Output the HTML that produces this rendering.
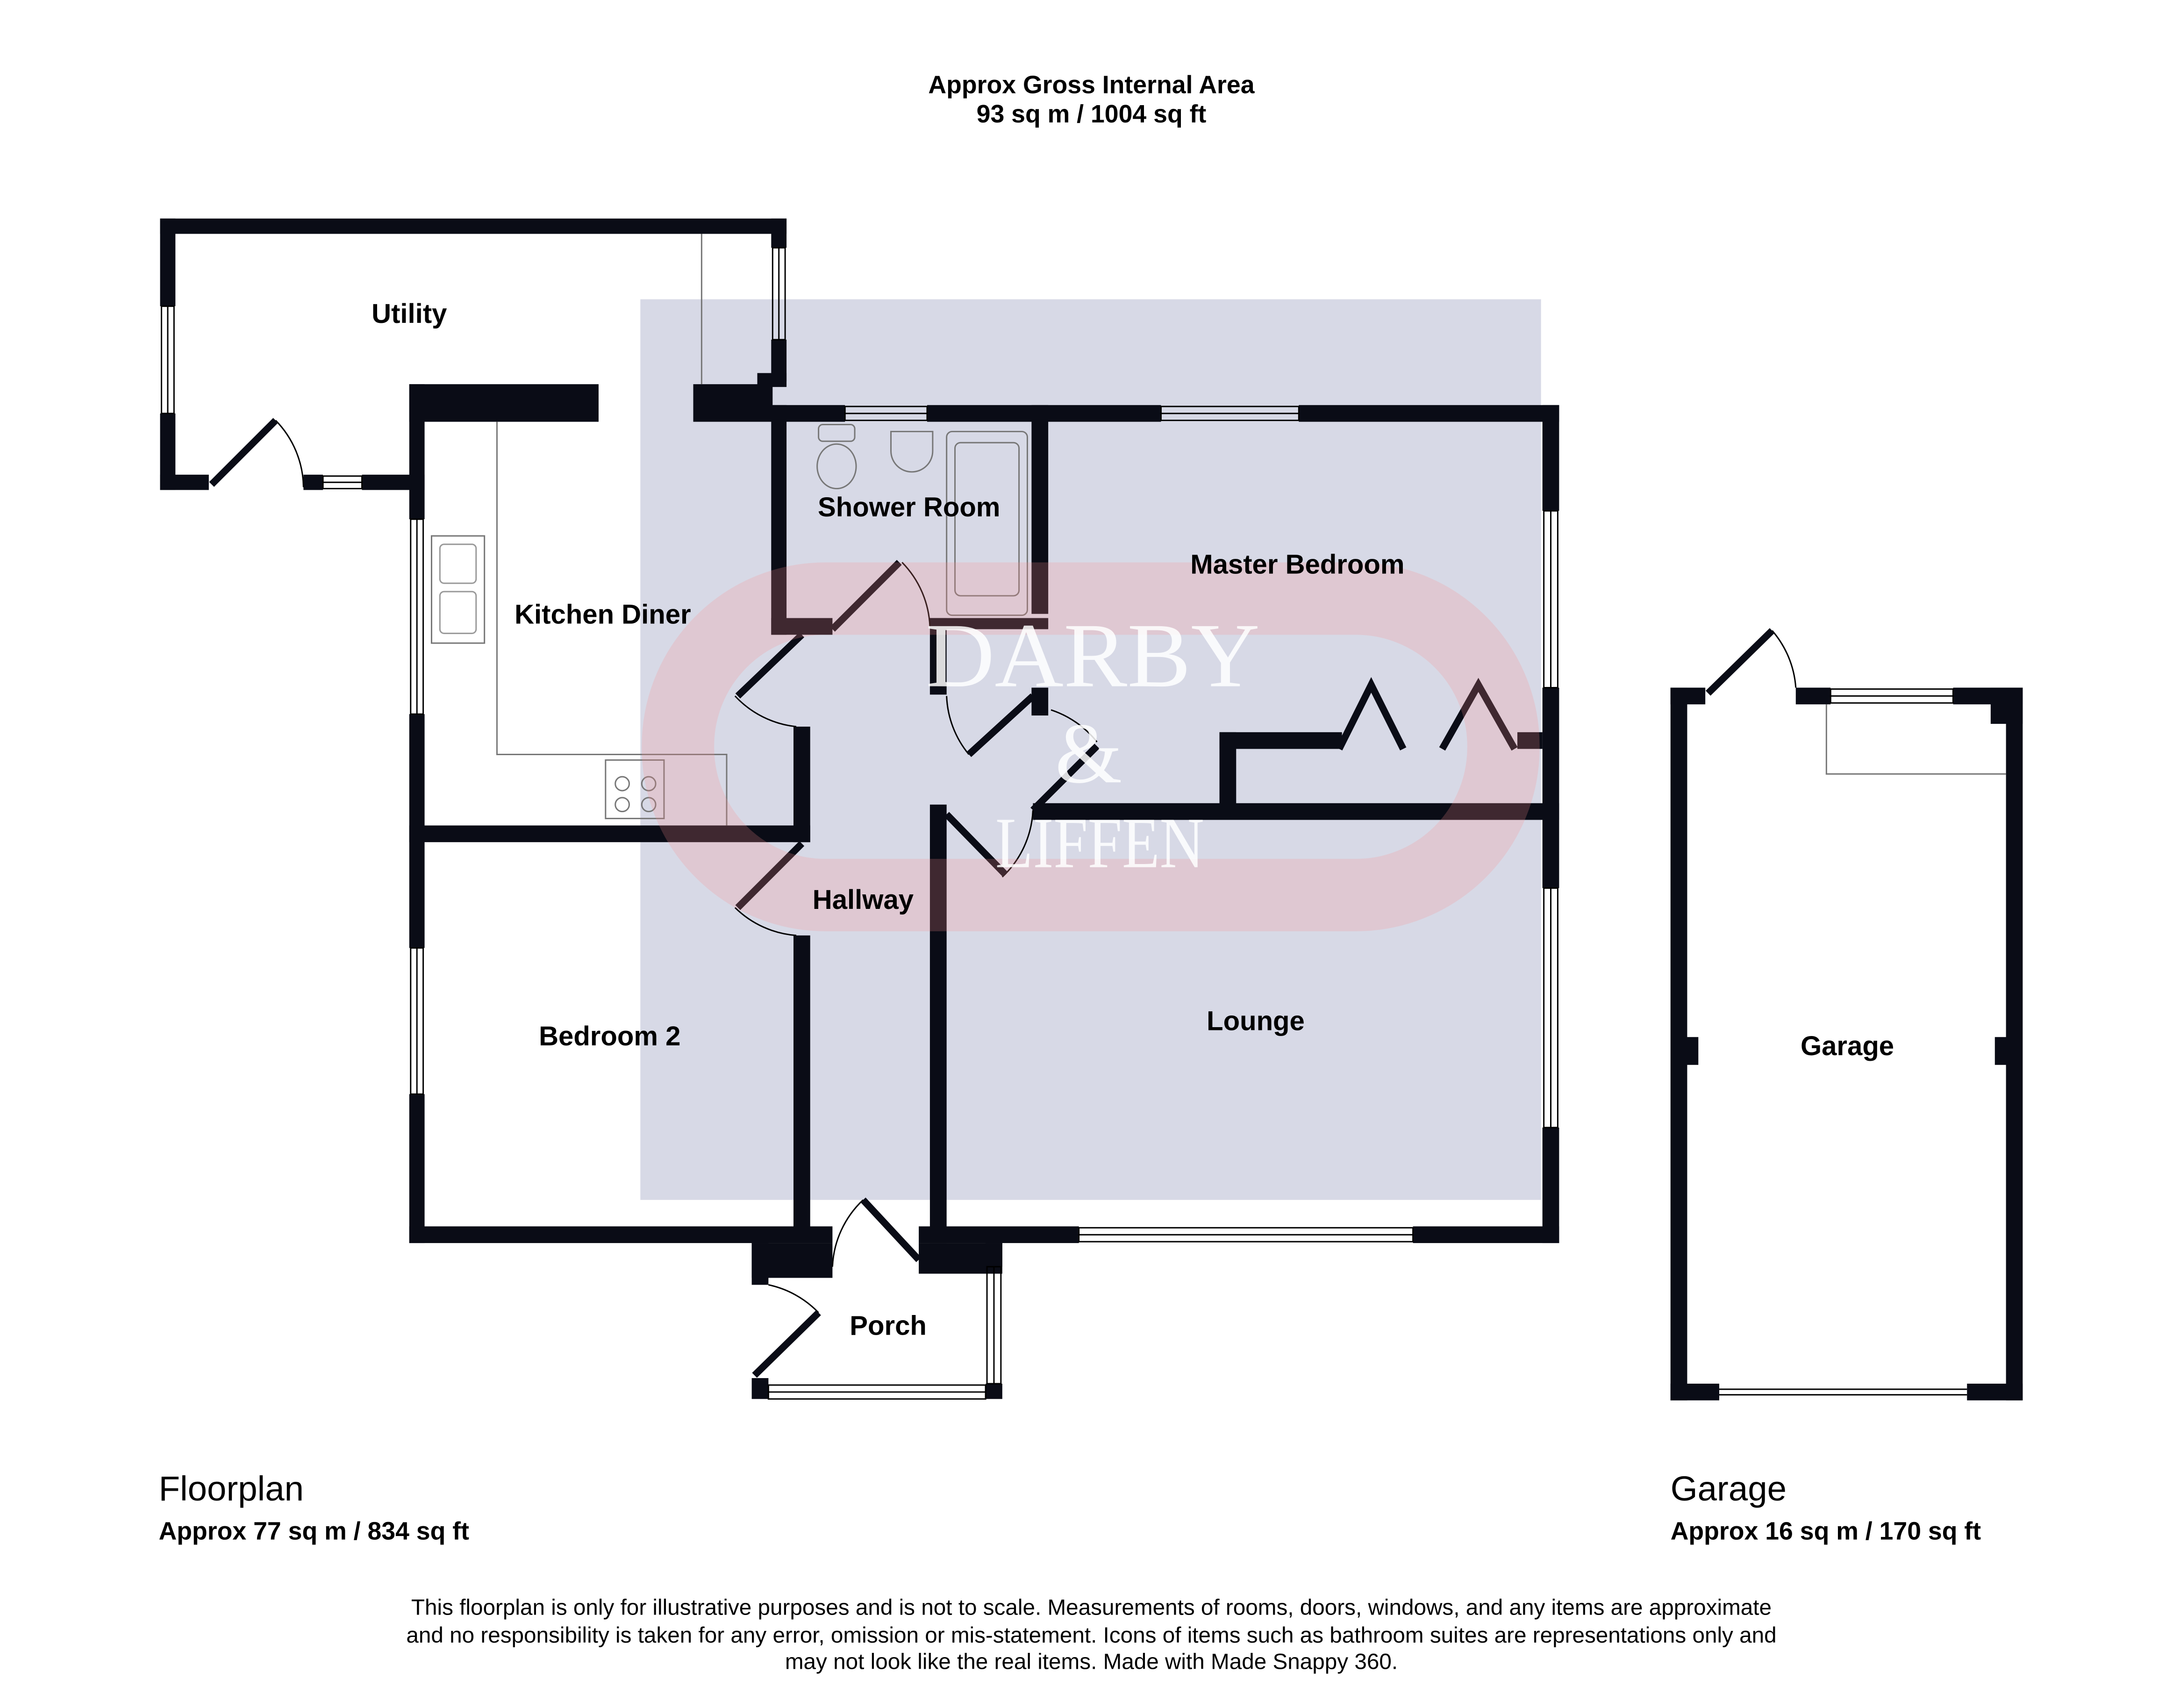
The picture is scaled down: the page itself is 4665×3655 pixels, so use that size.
<!DOCTYPE html>
<html><head><meta charset="utf-8"><style>html,body{margin:0;padding:0;background:#fff}svg{display:block}</style></head><body>
<svg width="4665" height="3655" viewBox="0 0 1566 1227" preserveAspectRatio="none" xmlns="http://www.w3.org/2000/svg" font-family="Liberation Sans, sans-serif">
<rect width="1566" height="1227" fill="#fff"/>
<rect x="460" y="215" width="647" height="647" fill="#d7d9e6"/>
<g font-weight="bold" font-size="18" text-anchor="middle" fill="#000">
<text x="784" y="67">Approx Gross Internal Area</text>
<text x="784" y="88">93 sq m / 1004 sq ft</text>
</g>
<g fill="#0a0c16">
<rect x="115" y="157" width="450" height="11"/>
<rect x="115" y="157" width="11" height="63"/><rect x="115" y="297" width="11" height="55"/>
<rect x="115" y="341" width="35" height="11"/><rect x="218" y="341" width="14" height="11"/><rect x="260" y="341" width="45" height="11"/>
<rect x="554" y="157" width="11" height="21"/><rect x="554" y="244" width="11" height="30"/><rect x="544" y="268" width="21" height="10"/>
<rect x="294" y="276" width="136" height="27"/><rect x="294" y="276" width="11" height="97"/><rect x="294" y="513" width="11" height="168"/><rect x="294" y="786" width="11" height="107"/>
<rect x="498" y="276" width="57" height="27"/>
<rect x="555" y="291" width="52" height="12"/><rect x="666" y="291" width="168" height="12"/><rect x="933" y="291" width="187" height="12"/>
<rect x="1108" y="291" width="12" height="76"/><rect x="1108" y="494" width="12" height="144"/><rect x="1108" y="810" width="12" height="83"/>
<rect x="554" y="291" width="11" height="165"/><rect x="554" y="444" width="44" height="12"/>
<rect x="741" y="291" width="12" height="150"/><rect x="668" y="444" width="12" height="55"/><rect x="668" y="444" width="85" height="8"/>
<rect x="741" y="494" width="12" height="20"/>
<rect x="294" y="593" width="288" height="12"/><rect x="570" y="522" width="12" height="83"/><rect x="570" y="672" width="12" height="210"/>
<rect x="668" y="578" width="12" height="315"/>
<rect x="742" y="577" width="378" height="12"/><rect x="876" y="526" width="12" height="52"/><rect x="876" y="526" width="88" height="12"/><rect x="1090" y="526" width="18" height="12"/>
<rect x="294" y="881" width="304" height="12"/><rect x="660" y="881" width="115" height="12"/><rect x="1015" y="881" width="105" height="12"/>
<rect x="540" y="893" width="58" height="25"/><rect x="540" y="893" width="12" height="30"/><rect x="540" y="990" width="12" height="15"/>
<rect x="660" y="893" width="60" height="22"/><rect x="708" y="893" width="12" height="17"/><rect x="708" y="994" width="12" height="11"/>
<rect x="1200" y="494" width="25" height="12"/><rect x="1290" y="494" width="25" height="12"/><rect x="1403" y="494" width="50" height="12"/>
<rect x="1200" y="494" width="12" height="512"/><rect x="1441" y="494" width="12" height="512"/>
<rect x="1430" y="494" width="23" height="26"/>
<rect x="1200" y="994" width="35" height="12"/><rect x="1413" y="994" width="40" height="12"/>
<rect x="1206" y="745" width="14" height="20"/><rect x="1433" y="745" width="14" height="20"/>
</g>
<g stroke="#000" stroke-width="1" fill="none">
<rect x="116" y="220" width="9" height="77"/><line x1="120.5" y1="220" x2="120.5" y2="297"/>
<rect x="232" y="342" width="28" height="9"/><line x1="232" y1="346.5" x2="260" y2="346.5"/>
<rect x="555" y="178" width="9" height="66"/><line x1="559.5" y1="178" x2="559.5" y2="244"/>
<rect x="295" y="373" width="9" height="140"/><line x1="299.5" y1="373" x2="299.5" y2="513"/>
<rect x="295" y="681" width="9" height="105"/><line x1="299.5" y1="681" x2="299.5" y2="786"/>
<rect x="607" y="292" width="59" height="10"/><line x1="607" y1="297" x2="666" y2="297"/>
<rect x="834" y="292" width="99" height="10"/><line x1="834" y1="297" x2="933" y2="297"/>
<rect x="1109" y="367" width="10" height="127"/><line x1="1114" y1="367" x2="1114" y2="494"/>
<rect x="1109" y="638" width="10" height="172"/><line x1="1114" y1="638" x2="1114" y2="810"/>
<rect x="775" y="882" width="240" height="10"/><line x1="775" y1="887" x2="1015" y2="887"/>
<rect x="709" y="910" width="10" height="84"/><line x1="714" y1="910" x2="714" y2="994"/>
<rect x="552" y="995" width="156" height="10"/><line x1="552" y1="1000" x2="708" y2="1000"/>
<rect x="1315" y="495" width="88" height="10"/><line x1="1315" y1="500" x2="1403" y2="500"/>
<line x1="1235" y1="998" x2="1413" y2="998"/><line x1="1235" y1="1002" x2="1413" y2="1002"/>
<polyline points="504,276 504,168" stroke="#777"/>
<polyline points="357,303 357,542 522,542 522,593" stroke="#777"/>
<rect x="310" y="385" width="38" height="77" stroke="#777"/>
<rect x="316" y="391" width="26" height="28" rx="3" stroke="#999"/><rect x="316" y="425" width="26" height="30" rx="3" stroke="#999"/>
<rect x="435" y="546" width="42" height="42" stroke="#777"/>
<circle cx="447" cy="563" r="5" stroke="#777"/><circle cx="466" cy="563" r="5" stroke="#777"/><circle cx="447" cy="578" r="5" stroke="#777"/><circle cx="466" cy="578" r="5" stroke="#777"/>
<polyline points="1312,506 1312,556 1441,556" stroke="#777"/>
<rect x="680" y="310" width="58" height="132" rx="4" stroke="#777"/><rect x="686" y="318" width="46" height="110" rx="4" stroke="#777"/>
<ellipse cx="601" cy="335" rx="14" ry="16" stroke="#777"/><rect x="588" y="305" width="26" height="12" rx="3" stroke="#777"/>
<path d="M640 310 h30 v14 a15 15 0 0 1 -30 0z" stroke="#777"/>
<path d="M198 302 A70 70 0 0 1 218 350"/><path d="M648 404 A70 70 0 0 1 668 450"/><path d="M528 500 A70 70 0 0 0 572 522"/>
<path d="M680 500 A70 70 0 0 0 696 542"/><path d="M755 510 A70 70 0 0 1 788 533"/><path d="M742 582 A70 70 0 0 1 720 630"/>
<path d="M528 652 A70 70 0 0 0 572 672"/><path d="M620 862 A70 70 0 0 0 598 910"/><path d="M588 943 A70 70 0 0 0 552 923"/>
<path d="M1273 453 A70 70 0 0 1 1290 494"/>
</g>
<g stroke="#0a0c16" stroke-width="5" stroke-linecap="butt">
<line x1="152" y1="348" x2="198" y2="302"/><line x1="598" y1="452" x2="646" y2="404"/><line x1="530" y1="500" x2="576" y2="456"/>
<line x1="696" y1="542" x2="742" y2="500"/><line x1="742" y1="582" x2="788" y2="536"/><line x1="680" y1="585" x2="722" y2="628"/>
<line x1="530" y1="652" x2="576" y2="606"/><line x1="620" y1="862" x2="660" y2="905"/><line x1="542" y1="988" x2="588" y2="943"/>
<line x1="1227" y1="498" x2="1273" y2="453"/>
<polyline points="962,538 985,492 1008,538" fill="none"/><polyline points="1036,538 1062,492 1088,538" fill="none"/>
</g>
<rect x="487" y="430" width="593" height="213" rx="106" fill="none" stroke="#ff8c8c" stroke-opacity="0.22" stroke-width="52"/>
<g font-family="Liberation Serif, serif" fill="#fff" fill-opacity="0.85" text-anchor="middle">
<text x="785" y="493" font-size="66" textLength="240" lengthAdjust="spacingAndGlyphs">DARBY</text>
<text x="782" y="562" font-size="62">&amp;</text>
<text x="790" y="623" font-size="52" textLength="150" lengthAdjust="spacingAndGlyphs">LIFFEN</text>
</g>
<g font-weight="bold" font-size="19.5" text-anchor="middle" fill="#000">
<text x="294" y="232">Utility</text>
<text x="653" y="371">Shower Room</text>
<text x="932" y="412">Master Bedroom</text>
<text x="433" y="448">Kitchen Diner</text>
<text x="620" y="653">Hallway</text>
<text x="438" y="751">Bedroom 2</text>
<text x="902" y="740">Lounge</text>
<text x="1327" y="758">Garage</text>
<text x="638" y="959">Porch</text>
</g>
<g fill="#000">
<text x="114" y="1078" font-size="25">Floorplan</text>
<text x="114" y="1106" font-size="18" font-weight="bold">Approx 77 sq m / 834 sq ft</text>
<text x="1200" y="1078" font-size="25">Garage</text>
<text x="1200" y="1106" font-size="18" font-weight="bold">Approx 16 sq m / 170 sq ft</text>
</g>
<g font-size="16" text-anchor="middle" fill="#000">
<text x="784" y="1160">This floorplan is only for illustrative purposes and is not to scale. Measurements of rooms, doors, windows, and any items are approximate</text>
<text x="784" y="1180">and no responsibility is taken for any error, omission or mis-statement. Icons of items such as bathroom suites are representations only and</text>
<text x="784" y="1199">may not look like the real items. Made with Made Snappy 360.</text>
</g>
</svg>
</body></html>
